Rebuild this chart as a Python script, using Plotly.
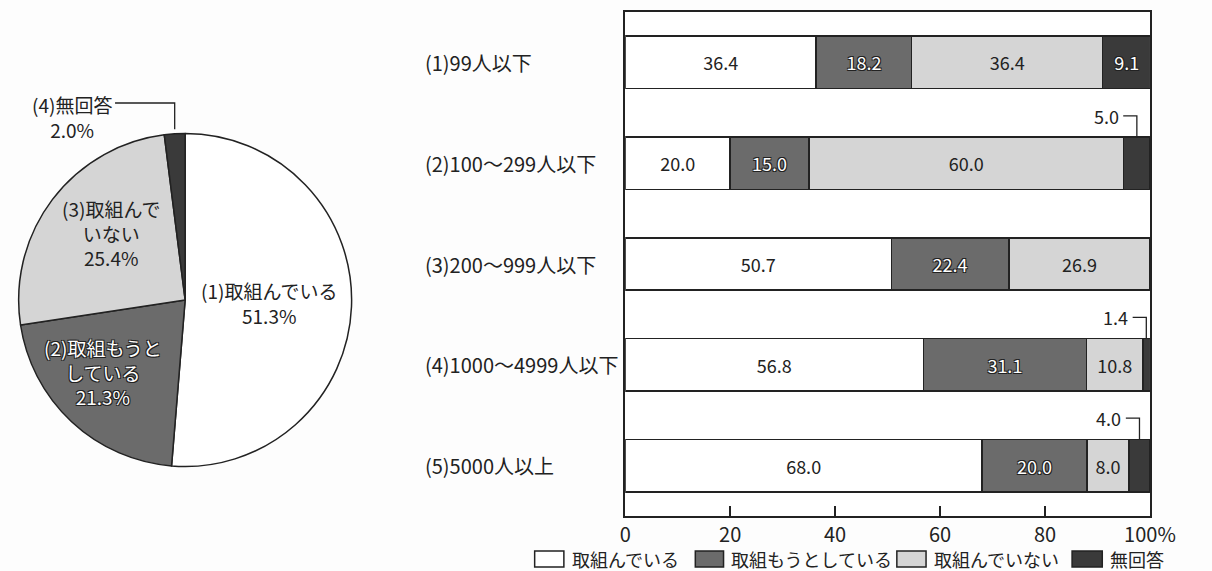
import plotly.graph_objects as go
import numpy as np

# ---------------- data ----------------
categories = ["(1)99人以下", "(2)100〜299人以下", "(3)200〜999人以下",
              "(4)1000〜4999人以下", "(5)5000人以上"]
series_names = ["取組んでいる", "取組もうとしている", "取組んでいない", "無回答"]
v_doing = [36.4, 20.0, 50.7, 56.8, 68.0]
v_planning = [18.2, 15.0, 22.4, 31.1, 20.0]
v_not = [36.4, 60.0, 26.9, 10.8, 8.0]
v_noans = [9.1, 5.0, 0.0, 1.4, 4.0]

pie_labels = ["(1)取組んでいる", "(2)取組もうと<br>している", "(3)取組んで<br>いない", "(4)無回答"]
pie_values = [51.3, 21.3, 25.4, 2.0]

x_tickvals = [0, 20, 40, 60, 80, 100]
x_ticktext = ["0", "20", "40", "60", "80", "100%"]

# ---------------- style ----------------
W, H = 1212, 571
FONT = "Noto Sans CJK JP, Noto Sans, sans-serif"
colors = ["#ffffff", "#6b6b6b", "#d5d5d5", "#3a3a3a"]
LINE = "#222222"
OUTLINE = "-1px -1px 0 #222, 1px -1px 0 #222, -1px 1px 0 #222, 1px 1px 0 #222"


def px(x):
    return x / W


def py(y):
    return 1 - y / H


fig = go.Figure()

# ---------------- pie ----------------
pie_cx, pie_cy, pie_r = 184, 300, 171
fig.add_trace(go.Pie(
    labels=series_names, values=pie_values, sort=False, direction="clockwise",
    rotation=0, textinfo="none", hoverinfo="label+value",
    marker=dict(colors=colors, line=dict(color=LINE, width=1.5)),
    domain=dict(x=[px(pie_cx - pie_r), px(pie_cx + pie_r)],
                y=[py(pie_cy + pie_r), py(pie_cy - pie_r)]),
    showlegend=False,
))

# ---------------- bars ----------------
series_vals = [v_doing, v_planning, v_not, v_noans]
ypos = list(range(len(categories)))
for k, (name, vals) in enumerate(zip(series_names, series_vals)):
    dark = k in (1, 3)
    txt = [f"{v:.1f}" if v > 5 else "" for v in vals]
    fig.add_trace(go.Bar(
        y=ypos, x=vals, name=name, orientation="h", width=0.52,
        marker=dict(color=colors[k], line=dict(color=LINE, width=1.5)),
        text=txt, textposition="inside", insidetextanchor="middle",
        textangle=0, constraintext="none",
        textfont=dict(family=FONT, size=18,
                      color="#ffffff" if dark else "#222222",
                      shadow=OUTLINE if dark else "none"),
        xaxis="x", yaxis="y", showlegend=False,
        hovertemplate=name + ": %{x}<extra></extra>",
    ))

fig.update_layout(
    barmode="stack",
    width=W, height=H,
    margin=dict(l=0, r=0, t=0, b=0),
    paper_bgcolor="#fdfdfd", plot_bgcolor="#ffffff",
    font=dict(family=FONT, color="#222222"),
    xaxis=dict(domain=[px(636), px(1175)], range=[0, 100],
               tickvals=x_tickvals, ticktext=x_ticktext,
               ticks="inside", ticklen=10, tickwidth=1.5, tickcolor=LINE,
               showline=True, linecolor=LINE, linewidth=1.5, mirror=True,
               showgrid=False, zeroline=False,
               tickfont=dict(family=FONT, size=20, color="#222222")),
    yaxis=dict(domain=[py(516), py(12)], range=[4.5, -0.5],
               showticklabels=False, ticks="",
               showline=True, linecolor=LINE, linewidth=1.5, mirror=True,
               showgrid=False, zeroline=False),
)

annotations = []
shapes = []

# category labels (left aligned)
for i, c in enumerate(categories):
    annotations.append(dict(x=px(428), y=i, xref="paper", yref="y", text=c,
                            xanchor="left", yanchor="middle", showarrow=False,
                            font=dict(family=FONT, size=20, color="#222222")))

# small 無回答 values outside with leader lines
for i, v in enumerate(v_noans):
    if 0 < v <= 5:
        mid = 100 - v / 2
        ylab = i - 0.47
        annotations.append(dict(x=mid - 3.1, y=ylab, xref="x", yref="y",
                                text=f"{v:.1f}", xanchor="right", yanchor="middle",
                                showarrow=False,
                                font=dict(family=FONT, size=18, color="#222222")))
        shapes.append(dict(type="path", xref="x", yref="y",
                           path=f"M {mid - 2.6},{ylab} L {mid},{ylab} L {mid},{i - 0.26}",
                           line=dict(color=LINE, width=1.3)))

# pie labels
pie_text_pos = [(270, 303), (100, 372), (108, 233), (68, 117)]
for k, (lab, val) in enumerate(zip(pie_labels, pie_values)):
    dark = k == 1
    x0, y0 = pie_text_pos[k]
    annotations.append(dict(x=px(x0), y=py(y0), xref="paper", yref="paper",
                            text=f"{lab}<br>{val:.1f}%", showarrow=False,
                            xanchor="center", yanchor="middle", align="center",
                            font=dict(family=FONT, size=19,
                                      color="#ffffff" if dark else "#222222",
                                      shadow=OUTLINE if dark else "none")))

# pie leader for last slice
cum_before = sum(pie_values[:-1])
mid_frac = (cum_before + pie_values[-1] / 2) / sum(pie_values)
theta = 2 * np.pi * mid_frac
lx = pie_cx + pie_r * np.sin(theta)
ly = pie_cy - pie_r * np.cos(theta)
shapes.append(dict(type="path", xref="paper", yref="paper",
                   path=f"M {px(112)},{py(103)} L {px(lx)},{py(103)} L {px(lx)},{py(ly)}",
                   line=dict(color=LINE, width=1.3)))

# manual legend (boxes + text)
legend_boxes = [(543, 573), (708, 737), (915, 945), (1095, 1126)]
for k, name in enumerate(series_names):
    b0, b1 = legend_boxes[k]
    shapes.append(dict(type="rect", xref="paper", yref="paper",
                       x0=px(b0), x1=px(b1), y0=py(567), y1=py(551),
                       fillcolor=colors[k], line=dict(color=LINE, width=1.5)))
    annotations.append(dict(x=px(b1 + 6), y=py(559), xref="paper", yref="paper",
                            text=name, xanchor="left", yanchor="middle",
                            showarrow=False,
                            font=dict(family=FONT, size=18, color="#222222")))

fig.update_layout(annotations=annotations, shapes=shapes)

fig.write_html("out.html")
